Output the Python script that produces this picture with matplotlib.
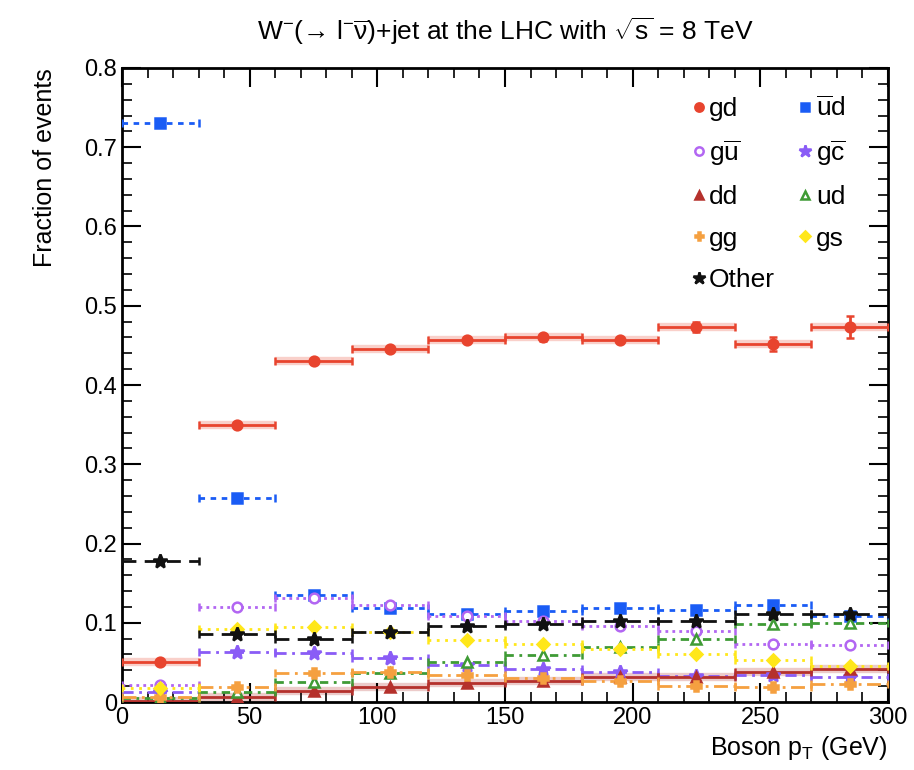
import numpy as np
import matplotlib
matplotlib.use('Agg')
import matplotlib.pyplot as plt
from matplotlib.lines import Line2D
from matplotlib.ticker import MultipleLocator, FuncFormatter

plt.rcParams['font.family'] = ['Liberation Sans', 'DejaVu Sans']
plt.rcParams['mathtext.fontset'] = 'custom'
plt.rcParams['mathtext.rm'] = 'Liberation Sans'
plt.rcParams['mathtext.it'] = 'Liberation Sans'

# Boson pT bins (GeV)
bin_edges = np.arange(0, 301, 30)
bin_centers = 0.5 * (bin_edges[:-1] + bin_edges[1:])
half_width = 0.5 * np.diff(bin_edges)

# Fraction of events per subprocess
frac_gd    = [0.050, 0.350, 0.430, 0.445, 0.457, 0.460, 0.457, 0.473, 0.452, 0.473]
err_gd     = [0.002, 0.003, 0.003, 0.003, 0.003, 0.004, 0.004, 0.006, 0.009, 0.014]
frac_ubd   = [0.730, 0.258, 0.135, 0.118, 0.111, 0.115, 0.119, 0.116, 0.123, 0.108]
frac_gub   = [0.021, 0.120, 0.131, 0.122, 0.108, 0.102, 0.096, 0.090, 0.073, 0.072]
frac_gcb   = [0.012, 0.063, 0.062, 0.055, 0.047, 0.042, 0.038, 0.033, 0.034, 0.031]
frac_dd    = [0.001, 0.006, 0.014, 0.019, 0.024, 0.027, 0.032, 0.031, 0.038, 0.042]
frac_ud    = [0.005, 0.012, 0.025, 0.037, 0.050, 0.059, 0.069, 0.080, 0.098, 0.100]
frac_gg    = [0.006, 0.019, 0.036, 0.038, 0.034, 0.030, 0.027, 0.020, 0.019, 0.023]
frac_gs    = [0.018, 0.092, 0.095, 0.088, 0.078, 0.073, 0.067, 0.060, 0.053, 0.045]
frac_other = [0.178, 0.086, 0.079, 0.088, 0.096, 0.098, 0.102, 0.102, 0.111, 0.111]

# label, values, colour, marker, marker filled, line style
series = [
    (r'gd', frac_gd, '#e8442e', 'o', True, '-'),
    (r'$\mathregular{\overline{u}d}$', frac_ubd, '#1a5cf5', 's', True, (0, (2, 2))),
    (r'g$\mathregular{\overline{u}}$', frac_gub, '#b266f2', 'o', False, (0, (1, 1.5))),
    (r'g$\mathregular{\overline{c}}$', frac_gcb, '#8a5cf6', '*', True, (0, (4, 2, 1, 2))),
    (r'dd', frac_dd, '#b5312c', '^', True, '-'),
    (r'ud', frac_ud, '#3f9b35', '^', False, (0, (3, 2, 1, 2))),
    (r'gg', frac_gg, '#f5a040', 'P', True, (0, (5, 2, 1, 2))),
    (r'gs', frac_gs, '#ffe71a', 'D', True, (0, (1, 2))),
    (r'Other', frac_other, '#111111', '*', True, (0, (5, 3))),
]

fig = plt.figure(figsize=(9.14, 7.70), dpi=100)
ax = fig.add_axes([0.1335, 0.0883, 0.838, 0.8234])

handles = {}
for label, vals, col, mk, filled, ls in series:
    vals = np.asarray(vals)
    yerr = np.asarray(err_gd) if label == 'gd' else None
    if label in ('gd', 'dd'):
        # light band behind the solid lines
        ax.errorbar(bin_centers, vals, xerr=half_width, fmt='none',
                    ecolor=col, elinewidth=6, alpha=0.25, zorder=1)
    msize = {'*': 10, 'D': 6, 'P': 7}.get(mk, 7)
    eb = ax.errorbar(bin_centers, vals, xerr=half_width, yerr=yerr,
                     fmt=mk, color=col, ecolor=col, elinewidth=2,
                     capsize=3, capthick=1.5, markersize=msize,
                     markerfacecolor=col if filled else 'white',
                     markeredgecolor=col, markeredgewidth=1.8, zorder=3)
    eb[2][0].set_linestyle(ls)
    handles[label] = Line2D([], [], linestyle='none', marker=mk, color=col,
                            markersize=msize - 1,
                            markerfacecolor=col if filled else 'white',
                            markeredgecolor=col, markeredgewidth=1.8)

order = ['gd', r'g$\mathregular{\overline{u}}$', 'dd', 'gg', 'Other',
         r'$\mathregular{\overline{u}d}$', r'g$\mathregular{\overline{c}}$', 'ud', 'gs']
ax.legend([handles[k] for k in order], order, ncol=2, frameon=False,
          loc='upper left', bbox_to_anchor=(0.72, 0.985), fontsize=19,
          handlelength=0.5, handletextpad=0.15, columnspacing=0.9,
          labelspacing=0.66, borderaxespad=0.3)

ax.set_xlim(0, 300)
ax.set_ylim(0, 0.8)
ax.xaxis.set_major_locator(MultipleLocator(50))
ax.xaxis.set_minor_locator(MultipleLocator(10))
ax.yaxis.set_major_locator(MultipleLocator(0.1))
ax.yaxis.set_minor_locator(MultipleLocator(0.02))
ax.yaxis.set_major_formatter(FuncFormatter(lambda v, p: '0' if abs(v) < 1e-9 else f'{v:g}'))
ax.tick_params(which='both', direction='in', top=True, right=True, labelsize=17)
ax.tick_params(which='major', length=14, width=1.5)
ax.tick_params(which='minor', length=7, width=1.2)
for sp in ax.spines.values():
    sp.set_linewidth(2)

ax.set_xlabel(r'Boson p$_\mathregular{T}$ (GeV)', fontsize=18, loc='right')
ax.set_ylabel('Fraction of events', fontsize=18, loc='top', labelpad=20)
ax.set_title(r'W$^{-}$(→ l$^{-}\mathregular{\overline{\nu}}$)+jet at the LHC with $\sqrt{s}$ = 8 TeV',
             fontsize=19, pad=20)

fig.savefig('out.png', dpi=100, facecolor='white')
plt.close(fig)
